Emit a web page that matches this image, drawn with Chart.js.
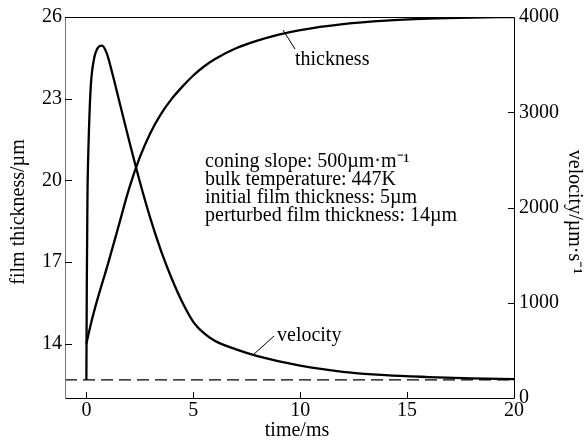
<!DOCTYPE html>
<html><head><meta charset="utf-8">
<script src="https://cdn.jsdelivr.net/npm/chart.js@4.4.1/dist/chart.umd.min.js"></script>
<style>html,body{margin:0;padding:0;background:#fff;}#wrap{width:585px;height:442px;}</style>
</head><body><div id="wrap"><canvas id="c" width="585" height="442"></canvas></div>
<script>
const xTicks = [0, 5, 10, 15, 20];
const leftTicks = [14, 17, 20, 23, 26];
const rightTicks = [0, 1000, 2000, 3000, 4000];

const thickTime  = [0, 0.25, 0.5, 1.0, 1.5, 2.0, 2.5, 3.0, 3.5, 4.0, 4.5, 5.0, 5.5, 6.0, 7.0, 8.0, 9.0, 10, 12, 14, 16, 18, 20];
const thickValue = [14.0, 14.85, 15.58, 16.9, 18.3, 19.7, 20.85, 21.75, 22.45, 23.0, 23.45, 23.85, 24.18, 24.45, 24.85, 25.13, 25.35, 25.52, 25.74, 25.87, 25.94, 25.98, 26.0];

const velTime  = [0, 0.02, 0.05, 0.1, 0.2, 0.35, 0.55, 0.73, 0.95, 1.2, 1.6, 2.0, 2.5, 3.0, 3.5, 4.0, 4.5, 5.0, 5.5, 6.0, 7.0, 8.0, 10, 12, 14, 16, 18, 20];
const velValue = [190, 1200, 2100, 2650, 3250, 3550, 3680, 3700, 3620, 3420, 3060, 2700, 2270, 1880, 1540, 1250, 1000, 800, 680, 600, 510, 440, 340, 275, 240, 220, 205, 198];

const baseTime = [-1, 20];
const baseValue = [190, 190];

const FONT = '"Liberation Serif", "Times New Roman", serif';
const pts = (xs, ys) => xs.map((x, i) => ({x: x, y: ys[i]}));

const decor = {
  id: 'decor',
  afterDatasetsDraw(chart) {
    const ctx = chart.ctx, a = chart.chartArea;
    const sx = chart.scales.x, sl = chart.scales.y, sr = chart.scales.y1;
    ctx.save();
    ctx.lineWidth = 1;
    ctx.strokeStyle = '#000';
    ctx.beginPath();
    ctx.moveTo(a.left, a.top + 0.5); ctx.lineTo(a.right + 0.5, a.top + 0.5);
    ctx.lineTo(a.right + 0.5, a.bottom + 0.5); ctx.lineTo(a.left, a.bottom + 0.5);
    ctx.stroke();
    ctx.strokeStyle = '#777';
    ctx.beginPath();
    ctx.moveTo(a.left + 0.5, a.top); ctx.lineTo(a.left + 0.5, a.bottom + 1);
    ctx.stroke();
    ctx.strokeStyle = '#000';
    ctx.beginPath();
    xTicks.forEach(v => { const px = Math.round(sx.getPixelForValue(v)) + 0.5; ctx.moveTo(px, a.bottom); ctx.lineTo(px, a.bottom - 6); });
    leftTicks.forEach(v => { const py = Math.round(sl.getPixelForValue(v)) + 0.5; ctx.moveTo(a.left, py); ctx.lineTo(a.left + 7, py); });
    rightTicks.forEach(v => { const py = Math.round(sr.getPixelForValue(v)) + 0.5; ctx.moveTo(a.right, py); ctx.lineTo(a.right - 6, py); });
    ctx.stroke();
    ctx.beginPath();
    ctx.moveTo(283, 30); ctx.lineTo(295, 49);
    ctx.moveTo(253, 355); ctx.lineTo(274, 336);
    ctx.stroke();
    ctx.fillStyle = '#000';
    ctx.font = '20px ' + FONT;
    ctx.textBaseline = 'middle';
    ctx.textAlign = 'left';
    ctx.fillText('thickness', 295, 60);
    ctx.fillText('velocity', 277, 336);
    const lines = ['coning slope: 500\u00b5m\u00b7m\u207b\u00b9', 'bulk temperature: 447K', 'initial film thickness: 5\u00b5m', 'perturbed film thickness: 14\u00b5m'];
    lines.forEach((t, i) => ctx.fillText(t, 205, 162 + i * 18));
    ctx.textAlign = 'center';
    ctx.fillText('time/ms', 297, 431);
    ctx.save();
    ctx.translate(19, 212); ctx.rotate(-Math.PI / 2);
    ctx.fillText('film thickness/\u00b5m', 0, 0);
    ctx.restore();
    ctx.save();
    ctx.translate(574, 212); ctx.rotate(Math.PI / 2);
    ctx.fillText('velocity/\u00b5m\u00b7s\u207b\u00b9', 0, 0);
    ctx.restore();
    ctx.restore();
  }
};

new Chart(document.getElementById('c'), {
  type: 'line',
  data: {
    datasets: [
      {label: 'thickness', data: pts(thickTime, thickValue), yAxisID: 'y', borderColor: '#000', borderWidth: 2.3, pointRadius: 0, cubicInterpolationMode: 'monotone', fill: false},
      {label: 'velocity', data: pts(velTime, velValue), yAxisID: 'y1', borderColor: '#000', borderWidth: 2.3, pointRadius: 0, cubicInterpolationMode: 'monotone', fill: false},
      {label: 'base', data: pts(baseTime, baseValue), yAxisID: 'y1', borderColor: '#000', borderWidth: 1.4, borderDash: [12, 6], pointRadius: 0, fill: false}
    ]
  },
  options: {
    responsive: false,
    animation: false,
    layout: {padding: {top: 15, left: 0, right: 0, bottom: 0}},
    plugins: {legend: {display: false}, tooltip: {enabled: false}},
    scales: {
      x: {
        type: 'linear', position: 'bottom', min: -1, max: 20,
        grid: {display: false, drawTicks: false}, border: {display: false},
        ticks: {font: {family: FONT, size: 20}, color: '#000', padding: 1, maxRotation: 0, autoSkip: false, callback: v => String(v)},
        afterBuildTicks: s => { s.ticks = xTicks.map(v => ({value: v})); },
        afterFit: s => { s.height = 44; }
      },
      y: {
        type: 'linear', position: 'left', min: 12, max: 26,
        grid: {display: false, drawTicks: false}, border: {display: false},
        ticks: {font: {family: FONT, size: 20}, color: '#000', padding: 3, autoSkip: false, callback: v => String(v)},
        afterBuildTicks: s => { s.ticks = leftTicks.map(v => ({value: v})); },
        afterFit: s => { s.width = 65; }
      },
      y1: {
        type: 'linear', position: 'right', min: 0, max: 4000,
        grid: {display: false, drawTicks: false}, border: {display: false},
        ticks: {font: {family: FONT, size: 20}, color: '#000', padding: 5, autoSkip: false, callback: v => String(v)},
        afterBuildTicks: s => { s.ticks = rightTicks.map(v => ({value: v})); },
        afterFit: s => { s.width = 71; }
      }
    }
  },
  plugins: [decor]
});
</script>
</body></html>
